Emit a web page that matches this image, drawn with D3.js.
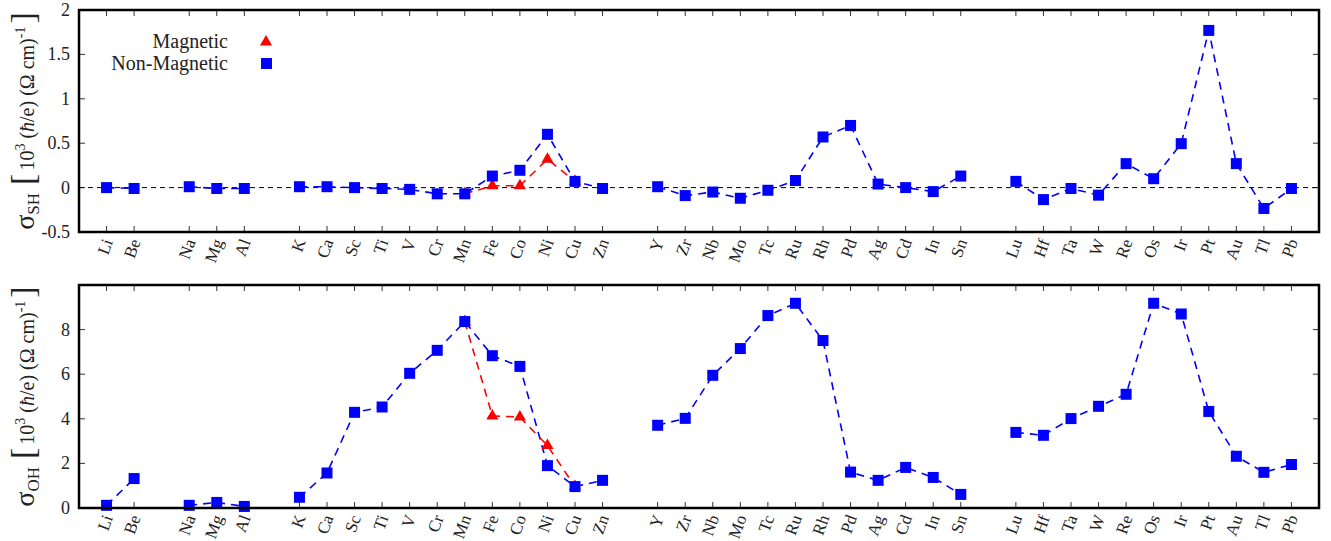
<!DOCTYPE html>
<html><head><meta charset="utf-8">
<script src="https://cdn.jsdelivr.net/npm/d3@7"></script>
<style>body{margin:0;background:#fff}svg{display:block}</style>
</head><body><svg id="c" width="1331" height="541"></svg>
<script>
// Elements and their slots on the x axis (gaps between periods)
const elements = ["Li","Be","Na","Mg","Al","K","Ca","Sc","Ti","V","Cr","Mn","Fe","Co","Ni","Cu","Zn","Y","Zr","Nb","Mo","Tc","Ru","Rh","Pd","Ag","Cd","In","Sn","Lu","Hf","Ta","W","Re","Os","Ir","Pt","Au","Tl","Pb"];
const slots =    [1,2,4,5,6,8,9,10,11,12,13,14,15,16,17,18,19,21,22,23,24,25,26,27,28,29,30,31,32,34,35,36,37,38,39,40,41,42,43,44];
const groups =   [0,0,1,1,1,2,2,2,2,2,2,2,2,2,2,2,2,3,3,3,3,3,3,3,3,3,3,3,3,4,4,4,4,4,4,4,4,4,4,4];
// Spin Hall conductivity, non-magnetic
const shNonMag = [0.00,-0.01,0.01,-0.01,-0.01,0.01,0.01,0.00,-0.01,-0.02,-0.07,-0.07,0.13,0.195,0.60,0.07,-0.01,0.01,-0.09,-0.05,-0.12,-0.03,0.08,0.57,0.70,0.04,0.00,-0.045,0.13,0.07,-0.135,-0.01,-0.085,0.27,0.10,0.495,1.77,0.27,-0.235,-0.01];
// Orbital Hall conductivity, non-magnetic
const ohNonMag = [0.12,1.32,0.12,0.25,0.07,0.48,1.57,4.29,4.53,6.04,7.07,8.36,6.83,6.35,1.90,0.96,1.24,3.71,4.02,5.95,7.15,8.63,9.18,7.51,1.61,1.24,1.82,1.37,0.61,3.39,3.26,4.01,4.56,5.10,9.18,8.70,4.33,2.32,1.60,1.95];
// Magnetic series (Mn..Cu)
const magElements = ["Mn","Fe","Co","Ni","Cu"];
const shMag = [-0.07,0.02,0.02,0.32,0.07];
const ohMag = [8.36,4.13,4.08,2.80,0.96];
const shTicks = [-0.5,0,0.5,1,1.5,2];
const shTickLabels = ["-0.5","0","0.5","1","1.5","2"];
const ohTicks = [0,2,4,6,8];
const ohTickLabels = ["0","2","4","6","8"];

const FONT = "'Liberation Serif', 'Times New Roman', Times, 'DejaVu Serif', serif";
const svg = d3.select("#c");
const L = 79, R = 1319;
const x = d3.scaleLinear().domain([0,45]).range([L,R]);
const slotOf = Object.fromEntries(elements.map((e,i)=>[e,slots[i]]));
const BLUE = "#0000ff", RED = "#ff0000";
function txt(g){ return g.append("text").attr("font-family",FONT).attr("fill","#222"); }

function panel(top, bottom, domain, ticks, tickLabels, nonMag, mag, sub, zeroLine){
  const y = d3.scaleLinear().domain(domain).range([bottom, top]);
  const g = svg.append("g");
  slots.forEach(s=>{
    g.append("line").attr("x1",x(s)).attr("x2",x(s)).attr("y1",bottom).attr("y2",bottom-6).attr("stroke","#333").attr("stroke-width",1);
    g.append("line").attr("x1",x(s)).attr("x2",x(s)).attr("y1",top).attr("y2",top+6).attr("stroke","#333").attr("stroke-width",1);
  });
  ticks.forEach((t,i)=>{
    g.append("line").attr("x1",L).attr("x2",L+6).attr("y1",y(t)).attr("y2",y(t)).attr("stroke","#333");
    g.append("line").attr("x1",R).attr("x2",R-6).attr("y1",y(t)).attr("y2",y(t)).attr("stroke","#333");
    txt(g).attr("x",L-9).attr("y",y(t)+6).attr("text-anchor","end").attr("font-size",18).text(tickLabels[i]);
  });
  elements.forEach((e,i)=>{
    txt(g).attr("transform",`translate(${x(slots[i])+5},${bottom+9}) rotate(-70)`)
     .attr("text-anchor","end").attr("font-size",17).attr("dy","0.1em").text(e);
  });
  if(zeroLine){
    g.append("line").attr("x1",L).attr("x2",R).attr("y1",y(0)).attr("y2",y(0)).attr("stroke","#000").attr("stroke-width",1).attr("stroke-dasharray","5,4");
  }
  const line = d3.line().x(d=>x(d[0])).y(d=>y(d[1]));
  d3.groups(slots.map((s,i)=>[s,nonMag[i],groups[i]]), d=>d[2]).forEach(([k,pts])=>{
    g.append("path").attr("d",line(pts)).attr("fill","none").attr("stroke",BLUE).attr("stroke-width",1.6).attr("stroke-dasharray","8,6");
  });
  const magPts = magElements.map((e,i)=>[slotOf[e],mag[i]]);
  g.append("path").attr("d",line(magPts)).attr("fill","none").attr("stroke",RED).attr("stroke-width",1.6).attr("stroke-dasharray","8,6");
  const tri = d3.symbol().type(d3.symbolTriangle).size(64);
  magPts.forEach(p=>{
    g.append("path").attr("d",tri()).attr("transform",`translate(${x(p[0])},${y(p[1])})`).attr("fill",RED);
  });
  slots.forEach((s,i)=>{
    g.append("rect").attr("x",x(s)-5.5).attr("y",y(nonMag[i])-5.5).attr("width",11).attr("height",11).attr("fill",BLUE);
  });
  g.append("rect").attr("x",L).attr("y",top).attr("width",R-L).attr("height",bottom-top).attr("fill","none").attr("stroke","#000").attr("stroke-width",2.5);
  const cy = (top+bottom)/2;
  const t = txt(g).attr("transform",`translate(34,${cy}) rotate(-90)`).attr("text-anchor","middle").attr("font-size",20);
  t.append("tspan").attr("font-size",28).text("σ");
  t.append("tspan").attr("font-size",17).attr("dy",5).text(sub);
  t.append("tspan").attr("dy",-5).attr("font-size",34).attr("dx",8).text("[");
  t.append("tspan").attr("font-size",20).attr("dx",3).text("10");
  t.append("tspan").attr("font-size",14).attr("dy",-9).text("3");
  t.append("tspan").attr("font-size",20).attr("dy",9).text(" (");
  t.append("tspan").attr("font-style","italic").text("ħ");
  t.append("tspan").text("/e) (Ω cm)");
  t.append("tspan").attr("font-size",14).attr("dy",-9).text("-1");
  t.append("tspan").attr("font-size",34).attr("dy",9).attr("dx",3).text("]");
  return y;
}
panel(10,232,[-0.5,2],shTicks,shTickLabels,shNonMag,shMag,"SH",true);
panel(285,508,[0,10],ohTicks,ohTickLabels,ohNonMag,ohMag,"OH",false);

const lg = svg.append("g");
txt(lg).attr("x",228).attr("y",48).attr("text-anchor","end").attr("font-size",20).text("Magnetic");
txt(lg).attr("x",228).attr("y",70).attr("text-anchor","end").attr("font-size",20).text("Non-Magnetic");
lg.append("path").attr("d",d3.symbol().type(d3.symbolTriangle).size(64)()).attr("transform","translate(266,42)").attr("fill",RED);
lg.append("rect").attr("x",261).attr("y",58).attr("width",11).attr("height",11).attr("fill",BLUE);
</script></body></html>
